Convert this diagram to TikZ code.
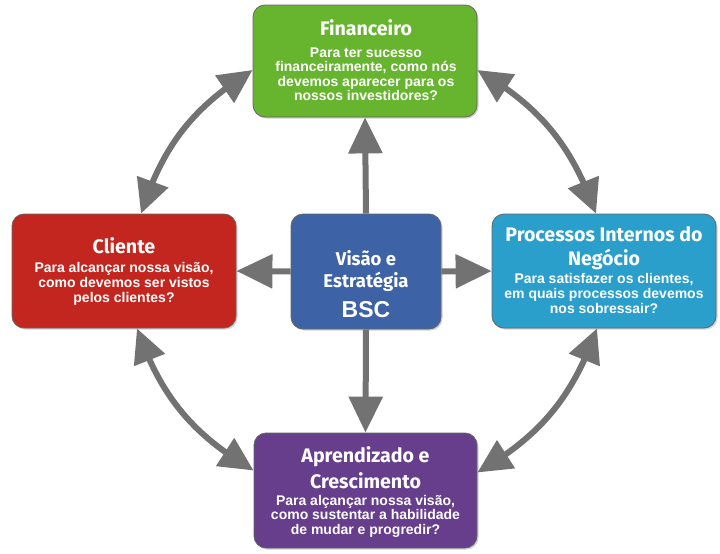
\documentclass[tikz,border=0pt]{standalone}
\usepackage{fontspec}
\setmainfont{Liberation Sans}
\newfontfamily\titlefont{Fira Sans}
\usetikzlibrary{arrows.meta,bending,shadows}
\definecolor{cgreen}{HTML}{67B52F}
\definecolor{cred}{HTML}{C3261F}
\definecolor{ccyan}{HTML}{2A9FCB}
\definecolor{cblue}{HTML}{3D62A6}
\definecolor{cpurple}{HTML}{673E8C}
\definecolor{arrgray}{HTML}{727272}
\tikzset{
  box/.style={draw=black!60, line width=0.8pt, rounded corners=12pt, inner sep=0pt,
    drop shadow={shadow xshift=1.5pt, shadow yshift=-1.5pt, fill=black!40, opacity=0.45}},
  ttl/.style={text=white, font=\titlefont\bfseries\fontsize{19.6}{22}\selectfont, inner sep=0pt, anchor=base},
  bdy/.style={text=white, font=\bfseries\fontsize{14}{15}\selectfont, inner sep=0pt, anchor=base},
  arr/.style={draw=arrgray, line width=6pt, -{Triangle[length=36pt,width=33pt]}},
  darr/.style={draw=arrgray, line width=6pt, {Triangle[length=34pt,width=32pt]}-{Triangle[length=34pt,width=32pt]}},
}
\begin{document}
\begin{tikzpicture}[x=1pt,y=-1pt]
\useasboundingbox[fill=white] (0,0) rectangle (720,554);
% boxes
\node[box, fill=cgreen, minimum width=224pt, minimum height=112pt] (fin) at (365,61) {};
\node[box, fill=cred, minimum width=224pt, minimum height=114pt] (cli) at (124,271) {};
\node[box, fill=ccyan, minimum width=224pt, minimum height=114pt] (pro) at (604,271) {};
\node[box, fill=cblue, minimum width=150pt, minimum height=115pt] (ctr) at (366,271.5) {};
\node[box, fill=cpurple, minimum width=223pt, minimum height=115pt] (apr) at (365.5,490.5) {};
% straight arrows
\draw[arr] (ctr.north) -- (fin.south);
\draw[arr] (ctr.west) -- (cli.east);
\draw[arr] (ctr.east) -- (pro.west);
\draw[arr] (ctr.south) -- (apr.north);
% curved arrows
\draw[darr] ([xshift=17pt]cli.north) to[bend left=20] ([yshift=-9pt]fin.west);
\draw[darr] ([yshift=-9pt]fin.east) to[bend left=20] ([xshift=-8pt]pro.north);
\draw[darr] ([xshift=-7pt]pro.south) to[bend left=20] ([yshift=18pt]apr.east);
\draw[darr] ([yshift=20pt]apr.west) to[bend left=20] ([xshift=13pt]cli.south);
% Financeiro text
\node[ttl] (fin-t) at (366,35) {Financeiro};
\node[bdy] (fin-b1) at (366,57) {Para ter sucesso};
\node[bdy] (fin-b2) at (366,71.5) {financeiramente, como nós};
\node[bdy] (fin-b3) at (366,86) {devemos aparecer para os};
\node[bdy] (fin-b4) at (366,100) {nossos investidores?};
% Cliente text
\node[ttl] (cli-t) at (124,253) {Cliente};
\node[bdy] (cli-b1) at (124,272) {Para alcançar nossa visão,};
\node[bdy] (cli-b2) at (124,287) {como devemos ser vistos};
\node[bdy] (cli-b3) at (124,302) {pelos clientes?};
% Processos text
\node[ttl] (pro-t1) at (604,241) {Processos Internos do};
\node[ttl] (pro-t2) at (604,265) {Negócio};
\node[bdy] (pro-b1) at (604,283) {Para satisfazer os clientes,};
\node[bdy] (pro-b2) at (604,298) {em quais processos devemos};
\node[bdy] (pro-b3) at (604,313) {nos sobressair?};
% Centre text
\node[ttl, font=\titlefont\bfseries\fontsize{18.5}{22}\selectfont] (ctr-t1) at (366,265) {Visão e};
\node[ttl, font=\titlefont\bfseries\fontsize{18.5}{22}\selectfont] (ctr-t2) at (366,287) {Estratégia};
\node[bdy, font=\bfseries\fontsize{23}{24}\selectfont] (ctr-b) at (366,317) {BSC};
% Aprendizado text
\node[ttl] (apr-t1) at (365.5,462) {Aprendizado e};
\node[ttl] (apr-t2) at (365.5,488) {Crescimento};
\node[bdy] (apr-b1) at (365.5,505) {Para alçançar nossa visão,};
\node[bdy] (apr-b2) at (365.5,519.5) {como sustentar a habilidade};
\node[bdy] (apr-b3) at (365.5,534) {de mudar e progredir?};
\end{tikzpicture}
\end{document}
